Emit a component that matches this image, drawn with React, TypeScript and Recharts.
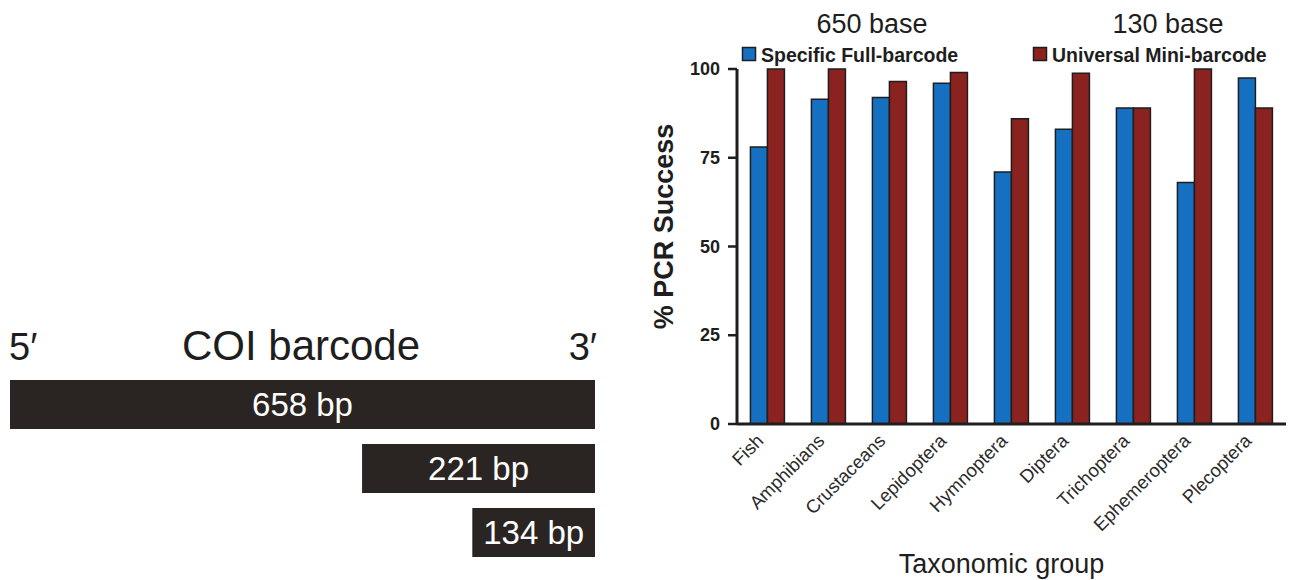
import React from 'react';
import { BarChart, Bar, XAxis, YAxis, Legend, LabelList } from 'recharts';

// ---- Right chart data ----
const categories = ['Fish', 'Amphibians', 'Crustaceans', 'Lepidoptera', 'Hymnoptera', 'Diptera', 'Trichoptera', 'Ephemeroptera', 'Plecoptera'];
const fullBarcode = [78, 91.5, 92, 96, 71, 83, 89, 68, 97.5];
const miniBarcode = [100, 100, 96.5, 99, 86, 98.8, 89, 100, 89];
const yTicks = [0, 25, 50, 75, 100];
const seriesNames = ['Specific Full-barcode', 'Universal Mini-barcode'];
const groupTitles = ['650 base', '130 base'];

// ---- Left diagram data ----
const segmentLabels = ['658 bp', '221 bp', '134 bp'];
const segmentStart = [0, 396, 520];
const segmentEnd = [658, 658, 658];
const diagramTitle = ['5\u2032', 'COI barcode', '3\u2032'];

const FONT = '"Liberation Sans", Arial, Helvetica, sans-serif';
const BLUE = '#1670c2';
const RED = '#8a2220';
const INK = '#1e1e1e';

const pcrData = categories.map((c, i) => ({ name: c, full: fullBarcode[i], mini: miniBarcode[i] }));
const segData = segmentLabels.map((l, i) => ({ name: l, label: l, range: [segmentStart[i], segmentEnd[i]] }));

const XTick = (props: any) => {
  const { x, y, payload } = props;
  const ax = x - 3;
  const ay = y + 10;
  return (
    <text x={ax} y={ay} transform={`rotate(-45 ${ax} ${ay})`} textAnchor="end" fontFamily={FONT} fontSize={18.5} fill="#2a2a2a">
      {payload.value}
    </text>
  );
};

const YTick = (props: any) => {
  const { x, y, payload } = props;
  return (
    <text x={x} y={y} dy={6} textAnchor="end" fontFamily={FONT} fontSize={18} fontWeight="bold" fill={INK}>
      {payload.value}
    </text>
  );
};

const YLabel = (props: any) => {
  const vb = props.viewBox || {};
  const cx = 33;
  const cy = vb.y + vb.height / 2 - 20;
  return (
    <text x={cx} y={cy} transform={`rotate(-90 ${cx} ${cy})`} textAnchor="middle" fontFamily={FONT} fontSize={27} fontWeight="bold" fill={INK}>
      % PCR Success
    </text>
  );
};

const XLabel = (props: any) => {
  const vb = props.viewBox || {};
  const cx = vb.x + vb.width / 2 - 10;
  const cy = vb.y + vb.height - 1;
  return (
    <text x={cx} y={cy} textAnchor="middle" fontFamily={FONT} fontSize={27} fill={INK}>
      Taxonomic group
    </text>
  );
};

const LegendContent = () => (
  <svg width={651} height={69} style={{ display: 'block' }}>
    <text x={232} y={33} textAnchor="middle" fontFamily={FONT} fontSize={27} fill={INK}>{groupTitles[0]}</text>
    <text x={528} y={33} textAnchor="middle" fontFamily={FONT} fontSize={27} fill={INK}>{groupTitles[1]}</text>
    <rect x={102.5} y={47.5} width={13} height={13} fill={BLUE} stroke={INK} strokeWidth={1.5} />
    <text x={121} y={62} fontFamily={FONT} fontSize={19.5} fontWeight="bold" fill={INK}>{seriesNames[0]}</text>
    <rect x={393.5} y={47.5} width={13} height={13} fill={RED} stroke={INK} strokeWidth={1.5} />
    <text x={412} y={62} fontFamily={FONT} fontSize={19.5} fontWeight="bold" fill={INK}>{seriesNames[1]}</text>
  </svg>
);

export default function App() {
  return (
    <div style={{ position: 'absolute', left: 0, top: 0, width: 1291, height: 580, background: '#fff', overflow: 'hidden' }}>
      {/* Left: COI barcode diagram */}
      <svg width={620} height={380} style={{ position: 'absolute', left: 0, top: 0 }}>
        <text x={9} y={360} fontFamily={FONT} fontSize={38} fill={INK}>{diagramTitle[0]}</text>
        <text x={301} y={360} textAnchor="middle" fontFamily={FONT} fontSize={42} fill={INK}>{diagramTitle[1]}</text>
        <text x={597} y={360} textAnchor="end" fontFamily={FONT} fontSize={38} fill={INK}>{diagramTitle[2]}</text>
      </svg>
      <div style={{ position: 'absolute', left: 0, top: 0 }}>
        <BarChart
          width={620}
          height={580}
          data={segData}
          layout="vertical"
          margin={{ top: 372, right: 25, bottom: 16, left: 10 }}
          barCategoryGap={0}
        >
          <XAxis type="number" domain={[0, 658]} hide />
          <YAxis type="category" dataKey="name" hide />
          <Bar dataKey="range" fill="#2a2523" barSize={49} isAnimationActive={false}>
            <LabelList dataKey="label" position="center" fill="#ffffff" fontSize={33} fontFamily={FONT} />
          </Bar>
        </BarChart>
      </div>

      {/* Right: PCR success bar chart */}
      <div style={{ position: 'absolute', left: 640, top: 0 }}>
        <BarChart
          width={651}
          height={580}
          data={pcrData}
          margin={{ top: 69, right: 5, bottom: 6, left: 0 }}
          barCategoryGap="22%"
          barGap={0}
        >
          <Legend
            layout="vertical"
            verticalAlign="middle"
            align="center"
            wrapperStyle={{ left: 0, top: 0, width: 651, height: 69 }}
            content={<LegendContent />}
          />
          <XAxis
            dataKey="name"
            height={150}
            interval={0}
            tickLine={false}
            axisLine={{ stroke: INK, strokeWidth: 3 }}
            tick={<XTick />}
            label={<XLabel />}
          />
          <YAxis
            width={97}
            domain={[0, 100]}
            ticks={yTicks}
            interval={0}
            tickSize={9}
            tickMargin={8}
            axisLine={{ stroke: INK, strokeWidth: 3 }}
            tickLine={{ stroke: INK, strokeWidth: 2.5 }}
            tick={<YTick />}
            label={<YLabel />}
          />
          <Bar dataKey="full" name={seriesNames[0]} fill={BLUE} stroke={INK} strokeWidth={1.5} isAnimationActive={false} />
          <Bar dataKey="mini" name={seriesNames[1]} fill={RED} stroke={INK} strokeWidth={1.5} isAnimationActive={false} />
        </BarChart>
      </div>
    </div>
  );
}
